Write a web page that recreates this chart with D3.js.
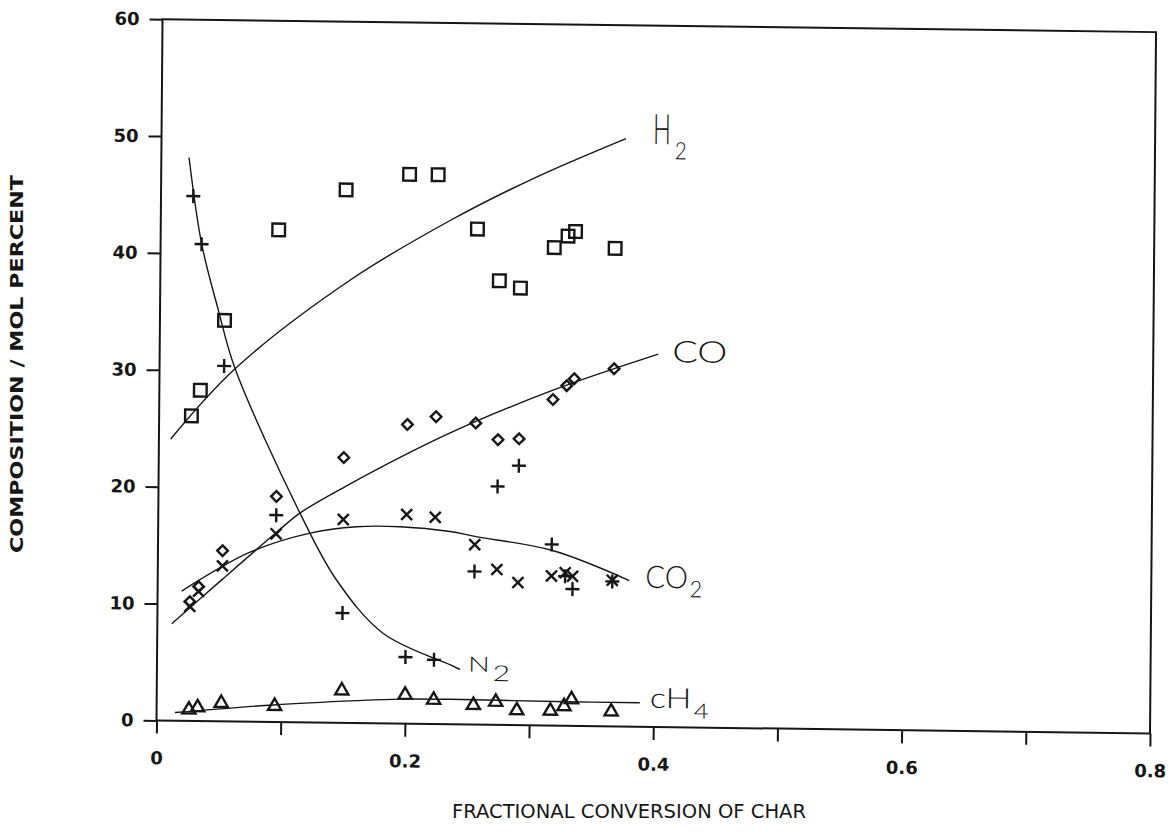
<!DOCTYPE html>
<html>
<head>
<meta charset="utf-8">
<script src="https://cdn.jsdelivr.net/npm/d3@7"></script>
<style>
  body { margin: 0; background: #fff; }
  svg { display: block; }
</style>
</head>
<body>
<script>
// fractional conversion of char, one value per run
const conversion = [0.026, 0.033, 0.052, 0.095, 0.149, 0.200, 0.223, 0.255, 0.273, 0.290, 0.317, 0.328, 0.334, 0.366];

// gas composition, mol percent
const h2  = [26.1, 28.3, 34.3, 42.1, 45.6, 47.0, 47.0, 42.4, 38.0, 37.4, 40.9, 41.9, 42.3, 40.9];
const co  = [10.2, 11.5, 14.6, 19.3, 22.7, 25.6, 26.3, 25.8, 24.4, 24.5, 27.9, 29.1, 29.7, 30.6];
const co2 = [9.8, 11.1, 13.3, 16.1, 17.4, 17.9, 17.7, 15.4, 13.3, 12.2, 12.8, 13.1, 12.8, 12.5];
const n2  = [44.9, 40.8, 30.4, 17.7, 9.4, 5.7, 5.5, 13.1, 20.4, 22.2, 15.5, 12.8, 11.7, 12.4];
const ch4 = [1.1, 1.3, 1.7, 1.5, 2.9, 2.6, 2.2, 1.8, 2.1, 1.4, 1.4, 1.8, 2.4, 1.4];

// hand drawn trend curves
const h2FitX  = [0.0095, 0.061, 0.153, 0.233, 0.300, 0.374];
const h2FitY  = [24.1, 30.2, 37.9, 43.1, 46.8, 50.3];
const coFitX  = [0.0116, 0.0515, 0.094, 0.114, 0.150, 0.234, 0.317, 0.4015];
const coFitY  = [8.3, 12.1, 16.1, 17.9, 20.2, 24.9, 28.7, 31.9];
const co2FitX = [0.0194, 0.0741, 0.1223, 0.1598, 0.1947, 0.235, 0.2551, 0.317, 0.3797];
const co2FitY = [11.1, 14.5, 16.2, 16.8, 16.85, 16.5, 16.1, 15.0, 12.5];
const n2FitX  = [0.0223, 0.0331, 0.0469, 0.0608, 0.1141, 0.1441, 0.182, 0.2359, 0.244];
const n2FitY  = [48.2, 40.8, 35.2, 30.2, 17.9, 12.2, 7.7, 5.1, 4.7];
const ch4FitX = [0.0148, 0.0939, 0.161, 0.196, 0.236, 0.330, 0.389];
const ch4FitY = [0.7, 1.46, 1.92, 2.1, 2.14, 2.06, 2.06];

// axes
const xTicks = [0, 0.1, 0.2, 0.3, 0.4, 0.5, 0.6, 0.7, 0.8];
const xTickLabels = ["0", "", "0.2", "", "0.4", "", "0.6", "", "0.8"];
const yTicks = [0, 10, 20, 30, 40, 50, 60];
const yTickLabels = ["0", "10", "20", "30", "40", "50", "60"];

const width = 1175, height = 832;
const ink = "#161616";

const svg = d3.select("body").append("svg")
    .attr("width", width)
    .attr("height", height)
    .attr("viewBox", "0 0 " + width + " " + height);

const x = d3.scaleLinear().domain([0, 0.8]).range([156.5, 1150]);
const y = d3.scaleLinear().domain([0, 60]).range([720.5, 19.2]);

// the scanned original sits a little askew, so shear the plot group slightly
const g = svg.append("g")
    .attr("transform", "translate(" + x(0) + "," + y(0) + ") matrix(1,0.013,-0.0086,1,0,0) translate(" + (-x(0)) + "," + (-y(0)) + ")");

// frame
g.append("rect")
    .attr("x", x(0))
    .attr("y", y(60))
    .attr("width", x(0.8) - x(0))
    .attr("height", y(0) - y(60))
    .attr("fill", "none")
    .attr("stroke", ink)
    .attr("stroke-width", 2);

const tickFont = (sel) => sel
    .attr("font-family", "'DejaVu Sans', Arial, sans-serif")
    .attr("font-size", 18)
    .attr("font-weight", "bold")
    .attr("fill", ink);

g.append("g")
    .attr("transform", "translate(0," + y(0) + ")")
    .call(d3.axisBottom(x).tickValues(xTicks).tickSize(13).tickPadding(18)
        .tickFormat((d, i) => xTickLabels[i]))
    .call(a => a.select(".domain").remove())
    .call(a => a.selectAll("line").attr("stroke", ink).attr("stroke-width", 2))
    .call(a => a.selectAll("text").call(tickFont));

g.append("g")
    .attr("transform", "translate(" + x(0) + ",0)")
    .call(d3.axisLeft(y).tickValues(yTicks).tickSize(13).tickPadding(10)
        .tickFormat((d, i) => yTickLabels[i]))
    .call(a => a.select(".domain").remove())
    .call(a => a.selectAll("line").attr("stroke", ink).attr("stroke-width", 2))
    .call(a => a.selectAll("text").call(tickFont));

// trend curves
const line = d3.line()
    .x(d => x(d[0]))
    .y(d => y(d[1]))
    .curve(d3.curveCatmullRom.alpha(0.5));

const fits = [
    [h2FitX, h2FitY],
    [coFitX, coFitY],
    [co2FitX, co2FitY],
    [n2FitX, n2FitY],
    [ch4FitX, ch4FitY]
];
fits.forEach(f => {
    g.append("path")
        .datum(d3.zip(f[0], f[1]))
        .attr("fill", "none")
        .attr("stroke", ink)
        .attr("stroke-width", 1.4)
        .attr("d", line);
});

// open marker shapes, size = half width in px
const openSquare = { draw(c, r) { c.moveTo(-r, -r); c.lineTo(r, -r); c.lineTo(r, r); c.lineTo(-r, r); c.closePath(); } };
const openDiamond = { draw(c, r) { c.moveTo(0, -r); c.lineTo(r, 0); c.lineTo(0, r); c.lineTo(-r, 0); c.closePath(); } };
const plus = { draw(c, r) { c.moveTo(-r, 0); c.lineTo(r, 0); c.moveTo(0, -r); c.lineTo(0, r); } };
const cross = { draw(c, r) { c.moveTo(-r, -r); c.lineTo(r, r); c.moveTo(r, -r); c.lineTo(-r, r); } };
const openTriangle = { draw(c, r) { c.moveTo(0, -r); c.lineTo(r * 1.1, r * 0.9); c.lineTo(-r * 1.1, r * 0.9); c.closePath(); } };

const series = [
    [h2, openSquare, 6.3],
    [co, openDiamond, 5.3],
    [co2, cross, 5.5],
    [n2, plus, 7],
    [ch4, openTriangle, 6]
];
series.forEach(s => {
    g.append("g")
        .selectAll("path")
        .data(d3.zip(conversion, s[0]))
        .enter()
        .append("path")
        .attr("transform", d => "translate(" + x(d[0]) + "," + y(d[1]) + ")")
        .attr("d", d3.symbol(s[1], s[2]))
        .attr("fill", "none")
        .attr("stroke", ink)
        .attr("stroke-width", 2.4);
});

// handwritten curve names, placed off the end of each curve
// lab: [text, sub, dx, dy, size, subSize, subShift, total width]
function curveLabel(fx, fy, lab) {
    const ex = x(fx[fx.length - 1]);
    const ey = y(fy[fy.length - 1]);
    const t = g.append("text")
        .attr("x", ex + lab[2])
        .attr("y", ey + lab[3])
        .attr("font-family", "Lato, 'Open Sans', sans-serif")
        .attr("font-weight", 300)
        .attr("textLength", lab[7])
        .attr("lengthAdjust", "spacingAndGlyphs")
        .attr("fill", ink);
    t.append("tspan").attr("font-size", lab[4]).text(lab[0]);
    if (lab[1]) {
        t.append("tspan").attr("font-size", lab[5]).attr("dx", 2).attr("dy", lab[6]).text(lab[1]);
    }
}
curveLabel(coFitX, coFitY, ["CO", "", 14, 8, 30, 0, 0, 55]);
curveLabel(co2FitX, co2FitY, ["CO", "2", 16, 7, 31, 23, 9, 57]);
curveLabel(n2FitX, n2FitY, ["N", "2", 8, 2, 21, 22, 9, 42]);
curveLabel(ch4FitX, ch4FitY, ["cH", "4", 10, 5, 28, 21, 10, 59]);

// H2 has a tall narrow H, squeeze it with a scale so its box stays honest
const h2x = x(h2FitX[h2FitX.length - 1]);
const h2y = y(h2FitY[h2FitY.length - 1]);
g.append("text")
    .attr("transform", "translate(" + (h2x + 27) + "," + (h2y + 5) + ") scale(0.56,1)")
    .attr("font-family", "Lato, 'Open Sans', sans-serif")
    .attr("font-weight", 300)
    .attr("font-size", 42)
    .attr("fill", ink)
    .text("H");
g.append("text")
    .attr("transform", "translate(" + (h2x + 49) + "," + (h2y + 20) + ") scale(0.85,1)")
    .attr("font-family", "Lato, 'Open Sans', sans-serif")
    .attr("font-weight", 300)
    .attr("font-size", 24)
    .attr("fill", ink)
    .text("2");

// axis titles
svg.append("text")
    .attr("x", 452)
    .attr("y", 818)
    .attr("font-family", "'DejaVu Sans', Arial, sans-serif")
    .attr("font-size", 19)
    .attr("textLength", 354)
    .attr("lengthAdjust", "spacingAndGlyphs")
    .attr("fill", ink)
    .text("FRACTIONAL CONVERSION OF CHAR");

svg.append("text")
    .attr("transform", "translate(23,364) rotate(-90)")
    .attr("text-anchor", "middle")
    .attr("font-family", "'DejaVu Sans', Arial, sans-serif")
    .attr("font-size", 18)
    .attr("font-weight", "bold")
    .attr("textLength", 378)
    .attr("lengthAdjust", "spacingAndGlyphs")
    .attr("fill", ink)
    .text("COMPOSITION / MOL PERCENT");
</script>
</body>
</html>
